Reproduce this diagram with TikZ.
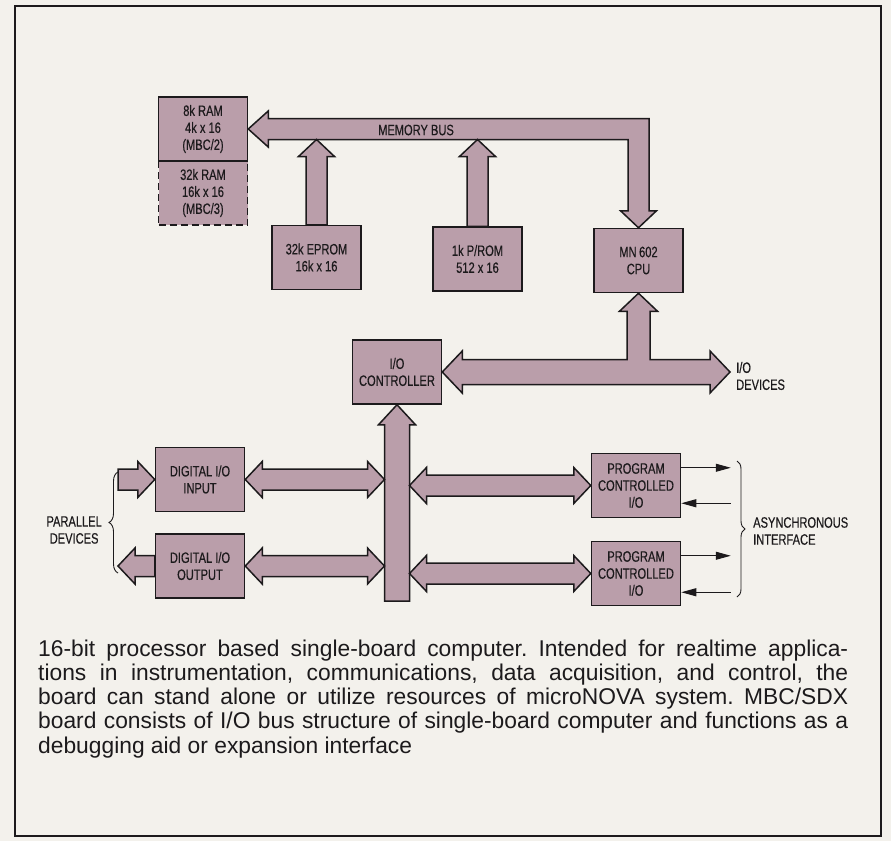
\documentclass[tikz,border=0pt]{standalone}
\usepackage{fontspec}
\setmainfont{Liberation Sans}
\newfontfamily\narrowsans[FakeStretch=0.74,FakeBold=0.35]{Liberation Sans}
\usetikzlibrary{calc,arrows.meta,decorations.pathreplacing}

\definecolor{paper}{RGB}{243,241,236}
\definecolor{mauve}{RGB}{186,158,170}
\definecolor{ink}{RGB}{28,26,28}

\newcommand{\busw}{10.5pt}
\newcommand{\bush}{18pt}
\newcommand{\busl}{17pt}
% fat arrow, heads at both ends, #1 left end, #2 right end
\newcommand{\fatdouble}[2]{%
  \draw[bus] let \p1=(#1), \p2=(#2) in
    (\x1,\y1) -- (\x1+\busl,\y1+\bush) -- (\x1+\busl,\y1+\busw) -- (\x2-\busl,\y1+\busw)
    -- (\x2-\busl,\y1+\bush) -- (\x2,\y1) -- (\x2-\busl,\y1-\bush) -- (\x2-\busl,\y1-\busw)
    -- (\x1+\busl,\y1-\busw) -- (\x1+\busl,\y1-\bush) -- cycle;}
% fat arrow, horizontal, #1 tail, #2 tip
\newcommand{\fatsingle}[2]{%
  \draw[bus] let \p1=(#1), \p2=(#2), \n1={ifthenelse(\x2>\x1,1,-1)} in
    (\x1,\y2+\busw) -- ({\x2-(\n1)*\busl},{\y2+\busw}) -- ({\x2-(\n1)*\busl},{\y2+\bush}) -- (\x2,\y2)
    -- ({\x2-(\n1)*\busl},{\y2-\bush}) -- ({\x2-(\n1)*\busl},{\y2-\busw}) -- (\x1,\y2-\busw) -- cycle;}
% fat arrow, pointing up, #1 tail, #2 tip
\newcommand{\fatup}[2]{%
  \draw[bus] let \p1=(#1), \p2=(#2) in
    (\x2,\y2) -- (\x2+\bush,\y2-\busl) -- (\x2+\busw,\y2-\busl) -- (\x2+\busw,\y1)
    -- (\x2-\busw,\y1) -- (\x2-\busw,\y2-\busl) -- (\x2-\bush,\y2-\busl) -- cycle;}

\begin{document}
\begin{tikzpicture}[x=1pt,y=-1pt,
  font=\narrowsans\fontsize{15}{17}\selectfont,
  box/.style={draw=ink, fill=mauve, line width=1.5pt, minimum width=89pt, minimum height=64pt,
    inner sep=0pt, align=center, text=ink},
  bus/.style={draw=ink, fill=mauve, line width=1.5pt, line join=miter},
  sig/.style={draw=ink, line width=1pt, -{Triangle[length=15pt,width=8pt]}},
  brace/.style={draw=ink, line width=0.9pt, decorate, decoration={brace, amplitude=8pt}},
  lbl/.style={text=ink, inner sep=0pt}]
  \fill[paper] (0,0) rectangle (891,841);
  \draw[ink, line width=2pt] (15,6) rectangle (881,836);

  \node[box, dashed, dash pattern=on 7pt off 4pt] (ramx) at (203,193) {32k RAM\\16k x 16\\(MBC/3)};
  \node[box] (ram) at (203,129) {8k RAM\\4k x 16\\(MBC/2)};
  \node[box] (eprom) at (316.5,257.5) {32k EPROM\\16k x 16};
  \node[box] (prom) at (477.5,259) {1k P/ROM\\512 x 16};
  \node[box] (cpu) at (638.5,260.5) {MN\,602\\CPU};
  \node[box] (ctrl) at (397,372) {I/O\\CONTROLLER};
  \node[box] (din) at (200,479.5) {DIGITAL I/O\\INPUT};
  \node[box] (dout) at (200,566) {DIGITAL I/O\\OUTPUT};
  \node[box] (pio1) at (636,485.5) {PROGRAM\\CONTROLLED\\I/O};
  \node[box] (pio2) at (636,573.5) {PROGRAM\\CONTROLLED\\I/O};

  \coordinate (membot) at ($(ram.east)+(0,10.5)$);
  \coordinate (iodev) at (730,372);
  \coordinate (vbot) at (397,601);
  \coordinate (vbl) at ($(ctrl.south)+(-12.5,0)$);
  \coordinate (vbr) at ($(ctrl.south)+(12.5,0)$);
  \coordinate (pin) at (118,479.5);
  \coordinate (pout) at (118,566);

  % memory bus
  \draw[bus] let \p1=(ram.east), \p2=(cpu.north) in
    (\x1,\y1) -- (\x1+20pt,\y1+18pt) -- (\x1+20pt,\y1+10.5pt) -- (\x2+10.5pt,\y1+10.5pt)
    -- (\x2+10.5pt,\y2+17pt) -- (\x2+18pt,\y2+17pt) -- (\x2,\y2) -- (\x2-18pt,\y2+17pt)
    -- (\x2-10.5pt,\y2+17pt) -- (\x2-10.5pt,\y1-10.5pt) -- (\x1+20pt,\y1-10.5pt)
    -- (\x1+20pt,\y1-18pt) -- cycle;
  \node[lbl] (membus) at (416,130) {MEMORY BUS};
  \fatup{eprom.north}{eprom.north |- membot}
  \fatup{prom.north}{prom.north |- membot}

  % I/O bus
  \draw[bus] let \p1=(ctrl.east), \p2=(cpu.south), \p3=(iodev) in
    (\x1,\y1) -- (\x1+20pt,\y1+21pt) -- (\x1+20pt,\y1+12.5pt) -- (\x2-11.5pt,\y1+12.5pt)
    -- (\x2-11.5pt,\y2-18pt) -- (\x2-19pt,\y2-18pt) -- (\x2,\y2) -- (\x2+19pt,\y2-18pt)
    -- (\x2+11.5pt,\y2-18pt) -- (\x2+11.5pt,\y1+12.5pt) -- (\x3-20pt,\y1+12.5pt)
    -- (\x3-20pt,\y1+21pt) -- (\x3,\y1) -- (\x3-20pt,\y1-21pt) -- (\x3-20pt,\y1-12.5pt)
    -- (\x1+20pt,\y1-12.5pt) -- (\x1+20pt,\y1-21pt) -- cycle;
  \node[lbl, anchor=west, align=left] (iodevtxt) at (736,376) {I/O\\DEVICES};
  {\renewcommand{\busw}{12.5pt}\renewcommand{\bush}{18.5pt}\renewcommand{\busl}{20pt}%
   \fatup{vbot}{ctrl.south}}

  \fatdouble{din.east}{vbl |- din.east}
  \fatdouble{dout.east}{vbl |- dout.east}
  \fatdouble{vbr |- pio1.west}{pio1.west}
  \fatdouble{vbr |- pio2.west}{pio2.west}
  \fatsingle{pin}{din.west}
  \fatsingle{dout.west}{pout}

  \draw[sig] ($(pio1.north east)+(0,15)$) -- ++(49.5,0);
  \draw[sig] ($(pio1.south east)+(49.5,-15)$) -- ($(pio1.south east)+(0,-15)$);
  \draw[sig] ($(pio2.north east)+(0,15)$) -- ++(49.5,0);
  \draw[sig] ($(pio2.south east)+(49.5,-14)$) -- ($(pio2.south east)+(0,-14)$);

  \draw[brace] (737,461) -- (737,597);
  \node[lbl, anchor=west, align=left] (async) at (753,531) {ASYNCHRONOUS\\INTERFACE};
  \draw[brace, decoration={amplitude=9pt}] (118,573) -- (118,472);
  \node[lbl, anchor=east, align=center] (par) at (102,530) {PARALLEL\\DEVICES};

  \node[anchor=base west, inner sep=0pt, text=ink, font={\normalfont\fontsize{22.8}{24.3}\selectfont}]
    (caption) at (38,656) {\parbox[t]{810pt}{\frenchspacing\tolerance=10000\hbadness=10000\hyphenpenalty=10000
    16-bit processor based single-board computer. Intended for realtime applica-\linebreak
    tions in instrumentation, communications, data acquisition, and control, the\linebreak
    board can stand alone or utilize resources of microNOVA system. MBC/SDX\linebreak
    board consists of I/O bus structure of single-board computer and functions as a\linebreak
    debugging aid or expansion interface}};
\end{tikzpicture}
\end{document}
